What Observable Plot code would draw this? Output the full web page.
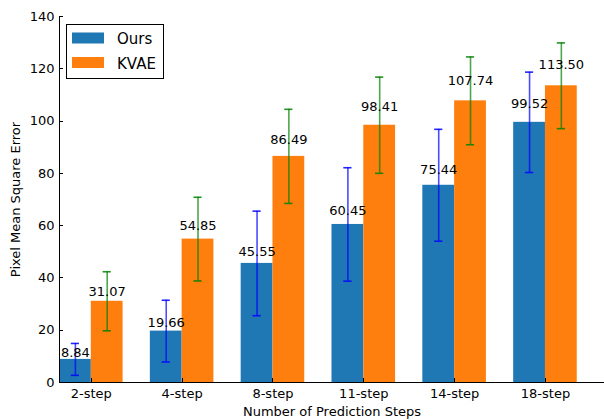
<!DOCTYPE html>
<html><head><meta charset="utf-8">
<script src="https://cdn.jsdelivr.net/npm/d3@7"></script>
<script src="https://cdn.jsdelivr.net/npm/@observablehq/plot@0.6"></script>
<style>body{margin:0;background:#fff}svg{display:block}</style>
</head><body><div id="chart"></div>
<script>
const categories = ["2-step", "4-step", "8-step", "11-step", "14-step", "18-step"];
const ours = [8.84, 19.66, 45.55, 60.45, 75.44, 99.52];
const kvae = [31.07, 54.85, 86.49, 98.41, 107.74, 113.50];
const oursErr = [6.1, 11.8, 20.0, 21.7, 21.4, 19.2];
const kvaeErr = [11.3, 16.0, 18.0, 18.4, 16.8, 16.4];
const yTicks = [0, 20, 40, 60, 80, 100, 120, 140];
const seriesNames = ["Ours", "KVAE"];
const barColors = ["#1f77b4", "#ff7f0e"];
const errColors = ["#0000ff", "#008000"];

const barW = 0.35;
const rows = categories.flatMap((c, i) => [
  {i, s: 0, value: ours[i], err: oursErr[i], x1: i - barW, x2: i, xc: i - barW / 2},
  {i, s: 1, value: kvae[i], err: kvaeErr[i], x1: i, x2: i + barW, xc: i + barW / 2}
]);
const capHalf = 0.045;

const chart = Plot.plot({
  width: 604, height: 420,
  marginLeft: 59, marginRight: 0, marginTop: 16, marginBottom: 38,
  style: {fontFamily: "DejaVu Sans", fontSize: "13px", color: "#000", background: "#fff"},
  x: {type: "linear", domain: [-barW, 5.65], label: null},
  y: {domain: [0, 140], label: null},
  marks: [
    Plot.rect(rows, {x1: "x1", x2: "x2", y1: 0, y2: "value", fill: d => barColors[d.s]}),
    Plot.ruleX(rows, {x: "xc", y1: d => d.value - d.err, y2: d => d.value + d.err, stroke: d => errColors[d.s], strokeWidth: 1.6, strokeOpacity: 0.7}),
    Plot.ruleY(rows, {x1: d => d.xc - capHalf, x2: d => d.xc + capHalf, y: d => d.value + d.err, stroke: d => errColors[d.s], strokeWidth: 1.6, strokeOpacity: 0.85}),
    Plot.ruleY(rows, {x1: d => d.xc - capHalf, x2: d => d.xc + capHalf, y: d => d.value - d.err, stroke: d => errColors[d.s], strokeWidth: 1.6, strokeOpacity: 0.85}),
    Plot.text(rows, {x: "xc", y: d => d.value * 1.05, text: d => d.value.toFixed(2), lineAnchor: "bottom", dy: -1.5, fontSize: 13, fill: "#000"}),
    Plot.axisX({ticks: [0, 1, 2, 3, 4, 5], tickFormat: i => categories[i], tickSize: 0, tickPadding: 6, label: null}),
    Plot.axisY({ticks: yTicks, tickSize: 0, tickPadding: 5, label: null}),
    Plot.ruleX([-barW], {stroke: "#000", strokeWidth: 1}),
    Plot.ruleY([0], {stroke: "#000", strokeWidth: 1}),
    Plot.text(["Pixel Mean Square Error"], {frameAnchor: "left", rotate: -90, dx: -44, textAnchor: "middle", lineAnchor: "middle", fontSize: 13, fill: "#000"}),
    Plot.text(["Number of Prediction Steps"], {frameAnchor: "bottom", dy: 33, textAnchor: "middle", lineAnchor: "bottom", fontSize: 13, fill: "#000"})
  ]
});

// inward tick marks
const svg = d3.select(chart);
const xs = chart.scale("x"), ys = chart.scale("y");
const x0 = xs.apply(-barW), y0 = ys.apply(0);
const tg = svg.append("g").attr("stroke", "#000").attr("stroke-width", 1);
yTicks.forEach(v => {
  const yy = Math.round(ys.apply(v)) + 0.5;
  tg.append("line").attr("x1", x0).attr("x2", x0 + 4).attr("y1", yy).attr("y2", yy);
});
categories.forEach((c, i) => {
  const xx = Math.round(xs.apply(i)) + 0.5;
  tg.append("line").attr("x1", xx).attr("x2", xx).attr("y1", y0).attr("y2", y0 - 4);
});

// legend
const lg = svg.append("g").attr("font-family", "DejaVu Sans").attr("font-size", 15).attr("text-anchor", "start");
lg.append("rect").attr("x", 66.5).attr("y", 24.5).attr("width", 97).attr("height", 54)
  .attr("fill", "#fff").attr("stroke", "#000").attr("stroke-width", 1);
seriesNames.forEach((name, k) => {
  lg.append("rect").attr("x", 72).attr("y", 32.5 + k * 24.5).attr("width", 32).attr("height", 11).attr("fill", barColors[k]);
  lg.append("text").attr("x", 117).attr("y", 44 + k * 24.5).attr("text-anchor", "start").attr("fill", "#000").text(name);
});

document.getElementById("chart").append(chart);
</script>
</body></html>
